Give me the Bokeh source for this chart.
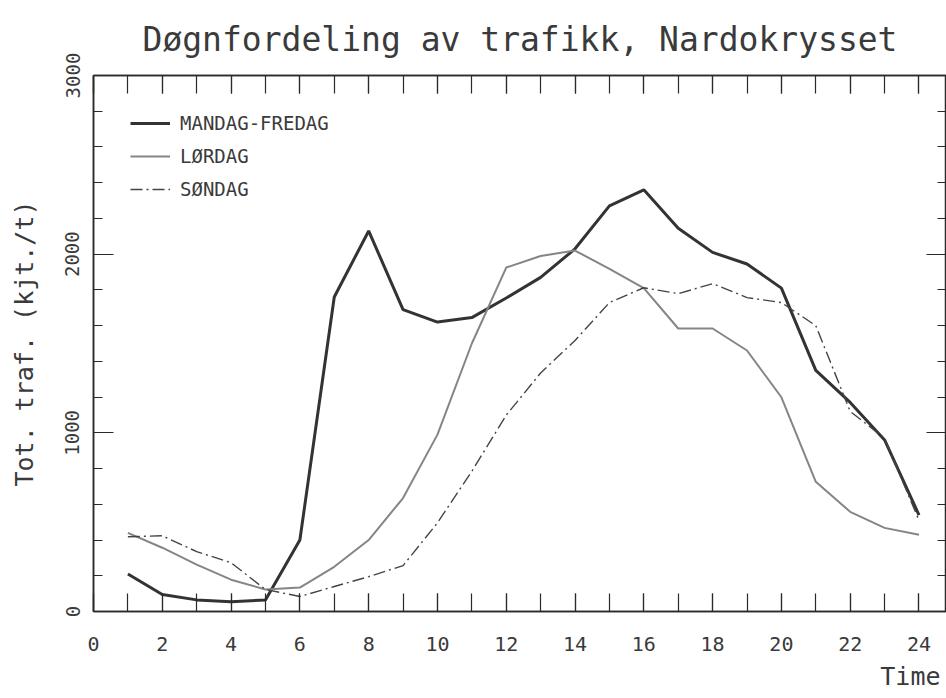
from bokeh.plotting import figure
from bokeh.models import (Range1d, LinearAxis, SingleIntervalTicker, Legend, LegendItem,
                          Title, ColumnDataSource, CustomJSTickFormatter)
from bokeh.embed import file_html
from bokeh.resources import INLINE

# ---- data ----
hours = list(range(1, 25))
mandag_fredag = [210, 95, 65, 55, 65, 400, 1760, 2130, 1690, 1620, 1645, 1755,
                 1870, 2030, 2270, 2360, 2145, 2010, 1945, 1810, 1350, 1170, 960, 540]
lordag = [440, 357, 262, 178, 123, 134, 250, 400, 635, 990, 1500, 1925,
          1990, 2020, 1918, 1810, 1584, 1584, 1461, 1199, 726, 558, 468, 429]
sondag = [418, 424, 335, 273, 123, 84, 140, 195, 257, 496, 785, 1099,
          1335, 1517, 1729, 1812, 1779, 1835, 1757, 1729, 1600, 1120, 970, 510]

title_text = "Døgnfordeling av trafikk, Nardokrysset"
y_title = "Tot. traf. (kjt./t)"
x_title = "Time"
series_names = ["MANDAG-FREDAG", "LØRDAG", "SØNDAG"]

FONT = "DejaVu Sans Mono"
TXT = "#3a3a3a"
AX = "#2a2a2a"

src = ColumnDataSource(dict(h=hours, mf=mandag_fredag, lo=lordag, so=sondag))

p = figure(width=946, height=696, output_backend="svg", toolbar_location=None,
           x_range=Range1d(0, 24.8), y_range=Range1d(0, 3000),
           x_axis_location=None, y_axis_location=None,
           min_border_left=93, min_border_top=74, min_border_bottom=84, min_border_right=0,
           background_fill_color="white", border_fill_color="white")
p.grid.visible = False
p.outline_line_color = AX
p.outline_line_width = 1.5

# title
p.title.text = title_text
p.title.align = "center"
p.title.text_font = FONT
p.title.text_font_size = "33px"
p.title.text_font_style = "normal"
p.title.text_color = TXT
p.title.text_line_height = 0.7
p.title.standoff = 34

blank = CustomJSTickFormatter(code="return ''")

def style_axis(ax, tin, mtin):
    ax.major_tick_in = tin
    ax.major_tick_out = 0
    ax.minor_tick_in = mtin
    ax.minor_tick_out = 0
    ax.axis_line_color = AX
    ax.axis_line_width = 1.5
    ax.major_tick_line_color = AX
    ax.minor_tick_line_color = AX
    ax.major_tick_line_width = 1.2
    ax.minor_tick_line_width = 1.2
    ax.major_label_text_font = FONT
    ax.major_label_text_color = TXT
    ax.axis_label_text_font = FONT
    ax.axis_label_text_color = TXT
    ax.axis_label_text_font_style = "normal"

# bottom axis
xb = LinearAxis(ticker=SingleIntervalTicker(interval=2, num_minor_ticks=2))
style_axis(xb, 18, 18)
xb.major_label_text_font_size = "20px"
xb.major_label_standoff = 25
p.add_layout(xb, "below")

# top axis (ticks only)
xt = LinearAxis(ticker=SingleIntervalTicker(interval=2, num_minor_ticks=2), formatter=blank)
style_axis(xt, 18, 18)
xt.major_label_standoff = 0
xt.major_label_text_font_size = "1px"
p.add_layout(xt, "above")

# left axis
yl = LinearAxis(ticker=SingleIntervalTicker(interval=1000, num_minor_ticks=5))
style_axis(yl, 20, 9)
yl.major_label_orientation = "vertical"
yl.major_label_text_font_size = "19px"
yl.major_label_standoff = 14
yl.axis_label = y_title
yl.axis_label_text_font_size = "25px"
yl.axis_label_standoff = 24
p.add_layout(yl, "left")

# right axis (ticks only)
yr = LinearAxis(ticker=SingleIntervalTicker(interval=1000, num_minor_ticks=5), formatter=blank)
style_axis(yr, 20, 9)
yr.major_label_standoff = 0
yr.major_label_text_font_size = "1px"
p.add_layout(yr, "right")

# "Time" label below, right aligned
t = Title(text=x_title, align="right", text_font=FONT, text_font_size="25px",
          text_font_style="normal", text_color=TXT, standoff=12, offset=6)
p.add_layout(t, "below")

# lines
r1 = p.line("h", "mf", source=src, line_color="#333333", line_width=3)
r2 = p.line("h", "lo", source=src, line_color="#858585", line_width=2)
r3 = p.line("h", "so", source=src, line_color="#444444", line_width=1.4, line_dash="12 4 2 4")

legend = Legend(items=[LegendItem(label=series_names[0], renderers=[r1]),
                       LegendItem(label=series_names[1], renderers=[r2]),
                       LegendItem(label=series_names[2], renderers=[r3])],
                location="top_left", margin=37, padding=10, spacing=11,
                glyph_width=40, glyph_height=20, label_height=20, label_standoff=10,
                label_text_font=FONT, label_text_font_size="19px", label_text_color=TXT,
                background_fill_alpha=0, border_line_color=None)
p.add_layout(legend, "center")

open("out.html", "w").write(file_html(p, INLINE))
